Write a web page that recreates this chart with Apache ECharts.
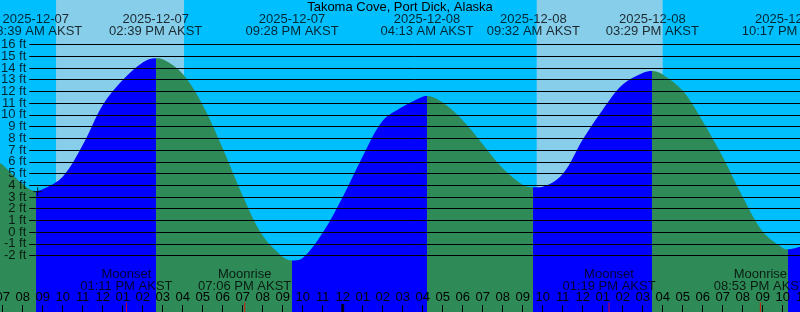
<!DOCTYPE html>
<html><head><meta charset="utf-8">
<script src="https://cdn.jsdelivr.net/npm/echarts@6/dist/echarts.min.js"></script>
<style>html,body{margin:0;padding:0;background:#00BFFF}#c{width:800px;height:312px}</style>
</head><body><div id="c"></div>
<script>
// ---------------- data ----------------
const chartTitle = 'Takoma Cove, Port Dick, Alaska';
const tzName = 'AKST';

const extremeTimes   = ['2025-12-07 08:39','2025-12-07 14:39','2025-12-07 21:28','2025-12-08 04:13','2025-12-08 09:32','2025-12-08 15:29','2025-12-08 22:17'];
const extremeHeights = [3.5, 14.83, -2.43, 11.61, 3.82, 13.75, -1.47];
const extremeTypes   = ['low','high','low','high','low','high','low'];

const sampleTimes = [
  '2025-12-07 06:52','2025-12-07 07:00','2025-12-07 08:00','2025-12-07 09:00','2025-12-07 10:00',
  '2025-12-07 11:00','2025-12-07 12:00','2025-12-07 13:00','2025-12-07 14:00','2025-12-07 15:00',
  '2025-12-07 16:00','2025-12-07 17:00','2025-12-07 18:00','2025-12-07 19:00','2025-12-07 20:00',
  '2025-12-07 21:00','2025-12-07 22:00','2025-12-07 23:00','2025-12-08 00:00','2025-12-08 01:00',
  '2025-12-08 02:00','2025-12-08 03:00','2025-12-08 04:00','2025-12-08 05:00','2025-12-08 06:00',
  '2025-12-08 07:00','2025-12-08 08:00','2025-12-08 09:00','2025-12-08 10:00','2025-12-08 11:00',
  '2025-12-08 12:00','2025-12-08 13:00','2025-12-08 14:00','2025-12-08 15:00','2025-12-08 16:00',
  '2025-12-08 17:00','2025-12-08 18:00','2025-12-08 19:00','2025-12-08 20:00','2025-12-08 21:00',
  '2025-12-08 22:00','2025-12-08 22:53'
];
const sampleHeights = [
  5.87, 5.75, 4.1, 3.65, 4.73,
  7.43, 10.85, 12.98, 14.48, 14.75,
  13.5, 10.85, 7.15, 3.1, -0.3,
  -2.1, -2.22, -0.05, 3.0, 6.45,
  9.5, 10.7, 11.55, 11.05, 9.55,
  7.5, 5.45, 4.05, 3.88, 4.95,
  7.9, 10.45, 12.6, 13.58, 13.45,
  12.05, 9.45, 6.4, 3.0, 0.05,
  -1.35, -1.25
];

const sunriseTimes = ['2025-12-07 09:40','2025-12-08 09:42'];
const sunsetTimes  = ['2025-12-07 16:04','2025-12-08 16:00'];

const moonTimes  = ['2025-12-07 13:11','2025-12-07 19:06','2025-12-08 13:19','2025-12-08 20:53'];
const moonEvents = ['Moonset','Moonrise','Moonset','Moonrise'];

const markerTime = '2025-12-07 08:45';
const markerHeight = 3.45;

const ftTickMin = -2, ftTickMax = 16;
const ftTicks = [];
for (let v = ftTickMin; v <= ftTickMax; v++) ftTicks.push(v);

// ---------------- layout / style ----------------
const FONT = "'Liberation Sans', Arial, sans-serif";
const W = 800, H = 312;
const PX_PER_H = 20;       // pixels per hour
const X_AT_FIRST_HOUR = 2.7; // pixel x of 07:00
const FIRST_HOUR = 7;
const ZERO_Y = 232.1;      // pixel y of 0 ft
const FT_PX = 11.72;       // pixels per foot
const COL_RISE = '#0000FF', COL_FALL = '#2E8B57', COL_DAY = '#87CEEB', COL_NIGHT = '#00BFFF';

function toH(s){
  const [d,t] = s.split(' ');
  const day = +d.slice(8,10);
  const [hh,mm] = t.split(':').map(Number);
  return (day-7)*24 + hh + mm/60;
}
function fmt12(s){
  const t = s.split(' ')[1];
  let [hh,mm] = t.split(':').map(Number);
  const ap = hh < 12 ? 'AM' : 'PM';
  let h = hh % 12; if (h === 0) h = 12;
  return String(h).padStart(2,'0') + ':' + String(mm).padStart(2,'0') + ' ' + ap;
}

const xMinAxis = FIRST_HOUR - 1;
const gridLeft = X_AT_FIRST_HOUR - PX_PER_H;
const hoursSpan = Math.ceil((W - gridLeft) / PX_PER_H);
const xMaxAxis = xMinAxis + hoursSpan;
const yMin = (ZERO_Y - H) / FT_PX;
const yMax = ZERO_Y / FT_PX;

// tide data
const pts = [];
sampleTimes.forEach((t,i)=>pts.push([toH(t), sampleHeights[i]]));
extremeTimes.forEach((t,i)=>pts.push([toH(t), extremeHeights[i]]));
pts.sort((a,b)=>a[0]-b[0]);

// colour pieces: rising after a low, falling after a high
const eh = extremeTimes.map(toH);
const pieces = [];
pieces.push({lt: eh[0], color: extremeTypes[0]==='low' ? COL_FALL : COL_RISE});
for (let i=0;i<eh.length-1;i++){
  pieces.push({gte: eh[i], lt: eh[i+1], color: extremeTypes[i]==='low' ? COL_RISE : COL_FALL});
}
pieces.push({gte: eh[eh.length-1], color: extremeTypes[eh.length-1]==='low' ? COL_RISE : COL_FALL});

const dayAreas = sunriseTimes.map((t,i)=>[{xAxis: toH(t)},{xAxis: toH(sunsetTimes[i])}]);

const extremeLabelData = extremeTimes.map((t,i)=>({
  value: [toH(t), yMax],
  label: {formatter: t.split(' ')[0] + '\n' + fmt12(t) + ' ' + tzName}
}));
const moonData = moonTimes.map((t,i)=>({
  value: [toH(t), yMin],
  label: {formatter: moonEvents[i] + '\n' + fmt12(t) + ' ' + tzName}
}));
const midnights = [];
for (let h = Math.ceil(xMinAxis/24)*24; h <= xMaxAxis; h += 24) if (h > xMinAxis) midnights.push([h, yMin]);

const textBase = {fontFamily: FONT, fontSize: 13, color: '#000'};

const chart = echarts.init(document.getElementById('c'), null, {renderer: 'canvas'});
chart.setOption({
  animation: false,
  backgroundColor: COL_NIGHT,
  title: {text: chartTitle, left: 'center', top: 0, padding: 0,
    textStyle: Object.assign({}, textBase, {fontWeight: 'normal', lineHeight: 15})},
  grid: [
    {left: gridLeft, width: hoursSpan*PX_PER_H, top: 0, height: H, containLabel: false, outerBoundsMode: 'none'},
    {left: 29.3, right: 0, top: ZERO_Y - ftTickMax*FT_PX, height: (ftTickMax-ftTickMin)*FT_PX, containLabel: false, outerBoundsMode: 'none'}
  ],
  xAxis: [
    {type: 'value', gridIndex: 0, min: xMinAxis, max: xMaxAxis, interval: 1, z: 10, position: 'bottom',
      axisLine: {show: false, onZero: false},
      axisTick: {show: true, inside: true, length: 7, lineStyle: {color: '#000', width: 1}},
      splitLine: {show: false},
      axisLabel: Object.assign({}, textBase, {inside: true, margin: 8, lineHeight: 13,
        showMinLabel: true, showMaxLabel: true, hideOverlap: false,
        formatter: v => { const h = ((v%24)+24)%24; let h12 = h%12; if (h12===0) h12 = 12; return String(h12).padStart(2,'0'); }})
    },
    {type: 'value', gridIndex: 1, min: 0, max: 1, show: false}
  ],
  yAxis: [
    {type: 'value', gridIndex: 0, min: yMin, max: yMax, show: false},
    {type: 'value', gridIndex: 1, min: ftTickMin, max: ftTickMax, interval: 1, z: 10,
      axisLine: {show: false}, axisTick: {show: false}, axisLabel: {show: false},
      splitLine: {show: true, showMinLine: true, showMaxLine: true, lineStyle: {color: '#000', width: 1}}
    }
  ],
  visualMap: {type: 'piecewise', show: false, dimension: 0, seriesIndex: 1, pieces: pieces},
  series: [
    {type: 'line', xAxisIndex: 0, yAxisIndex: 0, data: [], z: 1, silent: true,
      markArea: {silent: true, itemStyle: {color: COL_DAY, opacity: 1}, data: dayAreas}},
    {type: 'line', xAxisIndex: 0, yAxisIndex: 0, data: pts, z: 2, smooth: 0.35,
      showSymbol: false, lineStyle: {width: 0},
      areaStyle: {opacity: 1, origin: 'start'}},
    {type: 'scatter', xAxisIndex: 0, yAxisIndex: 0, z: 12, clip: false,
      symbol: 'rect', symbolSize: [1, 19], itemStyle: {color: '#FF0000'},
      label: Object.assign({}, textBase, {show: true, position: 'top', distance: 10, lineHeight: 12, align: 'center'}),
      data: moonData},
    {type: 'scatter', xAxisIndex: 0, yAxisIndex: 0, z: 12, clip: false,
      symbol: 'rect', symbolSize: [3, 16], itemStyle: {color: '#000'}, data: midnights},
    {type: 'scatter', xAxisIndex: 0, yAxisIndex: 0, z: 12, clip: false,
      symbol: 'rect', symbolSize: 0.01,
      label: Object.assign({}, textBase, {show: true, position: 'bottom', distance: 13.3, lineHeight: 12, align: 'center'}),
      data: extremeLabelData},
    {type: 'scatter', xAxisIndex: 0, yAxisIndex: 0, z: 12, clip: false,
      symbol: 'path://M0,5L10,5M5,0L5,10', symbolSize: 9, symbolKeepAspect: true,
      itemStyle: {color: 'none', borderColor: '#000', borderWidth: 1},
      data: [[toH(markerTime), markerHeight]]},
    {type: 'scatter', xAxisIndex: 1, yAxisIndex: 1, z: 12, clip: false,
      symbol: 'rect', symbolSize: 0.01,
      label: Object.assign({}, textBase, {show: true, position: 'left', distance: 3,
        formatter: p => p.value[1] + ' ft'}),
      data: ftTicks.map(v => [0, v])}
  ]
});
</script></body></html>
